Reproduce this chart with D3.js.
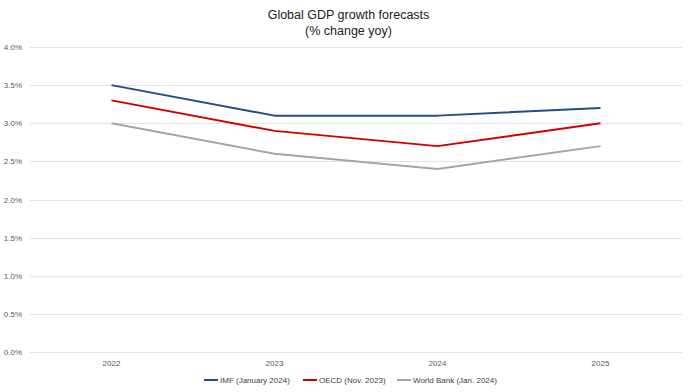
<!DOCTYPE html>
<html>
<head>
<meta charset="utf-8">
<script src="https://cdn.jsdelivr.net/npm/d3@7"></script>
<style>
  body { margin: 0; background: #fff; }
  text { font-family: "Liberation Sans", Arial, sans-serif; }
</style>
</head>
<body>
<svg id="chart" width="697" height="392"></svg>
<script>
(function () {
    "use strict";

    var years = ["2022", "2023", "2024", "2025"];
    var imf = [3.5, 3.1, 3.1, 3.2];
    var oecd = [3.3, 2.9, 2.7, 3.0];
    var worldBank = [3.0, 2.6, 2.4, 2.7];
    var yTicks = [0, 0.5, 1, 1.5, 2, 2.5, 3, 3.5, 4];

    var series = [
        { name: "IMF (January 2024)", values: imf, color: "#1f4e8c", lx: 204 },
        { name: "OECD (Nov. 2023)", values: oecd, color: "#d00000", lx: 303 },
        { name: "World Bank (Jan. 2024)", values: worldBank, color: "#a5a5a5", lx: 397 }
    ];

    var w = 697, h = 392;
    var left = 30, right = 682, top = 47, bottom = 352;

    var svg = d3.select("#chart");

    var x = d3.scaleBand().domain(years).range([left, right]);
    var y = d3.scaleLinear().domain([0, 4]).range([bottom, top]);

    // title
    svg.append("text").attr("x", w / 2).attr("y", 19)
        .attr("text-anchor", "middle").style("font-size", "12.5px").attr("fill", "#222")
        .text("Global GDP growth forecasts");
    svg.append("text").attr("x", w / 2).attr("y", 35)
        .attr("text-anchor", "middle").style("font-size", "12.5px").attr("fill", "#222")
        .text("(% change yoy)");

    // gridlines
    svg.append("g").selectAll("line")
        .data(yTicks).enter().append("line")
        .attr("x1", left).attr("x2", right)
        .attr("y1", function (d) { return Math.round(y(d)) + 0.5; })
        .attr("y2", function (d) { return Math.round(y(d)) + 0.5; })
        .attr("stroke", "#e3e3e3").attr("stroke-width", 1);

    // y axis labels
    var yAxis = d3.axisLeft(y).tickValues(yTicks).tickSize(0).tickPadding(5)
        .tickFormat(function (d) { return d.toFixed(1) + "%"; });
    var gy = svg.append("g").attr("transform", "translate(" + (left - 3) + ",0)").call(yAxis);
    gy.select(".domain").remove();
    gy.selectAll("text").style("font-size", "8px").attr("fill", "#595959")
        .style("font-family", "'Liberation Sans', Arial, sans-serif");

    // x axis labels
    var xAxis = d3.axisBottom(x).tickSize(0).tickPadding(8);
    var gx = svg.append("g").attr("transform", "translate(0," + bottom + ")").call(xAxis);
    gx.select(".domain").remove();
    gx.selectAll("text").style("font-size", "8px").attr("fill", "#595959")
        .style("font-family", "'Liberation Sans', Arial, sans-serif");

    var line = d3.line()
        .x(function (d, i) { return x(years[i]) + x.bandwidth() / 2; })
        .y(function (d) { return y(d); });

    svg.append("g").selectAll("path")
        .data(series).enter().append("path")
        .attr("d", function (s) { return line(s.values); })
        .attr("fill", "none")
        .attr("stroke", function (s) { return s.color; })
        .attr("stroke-width", 2)
        .attr("stroke-linejoin", "round");

    // legend
    var lg = svg.append("g").selectAll("g")
        .data(series).enter().append("g")
        .attr("transform", function (s) { return "translate(" + s.lx + ",380)"; });
    lg.append("line").attr("x1", 0).attr("x2", 14).attr("y1", 0).attr("y2", 0)
        .attr("stroke", function (s) { return s.color; }).attr("stroke-width", 2);
    lg.append("text").attr("x", 16).attr("y", 3)
        .style("font-size", "8px").attr("fill", "#404040")
        .text(function (s) { return s.name; });
})();
</script>
</body>
</html>
